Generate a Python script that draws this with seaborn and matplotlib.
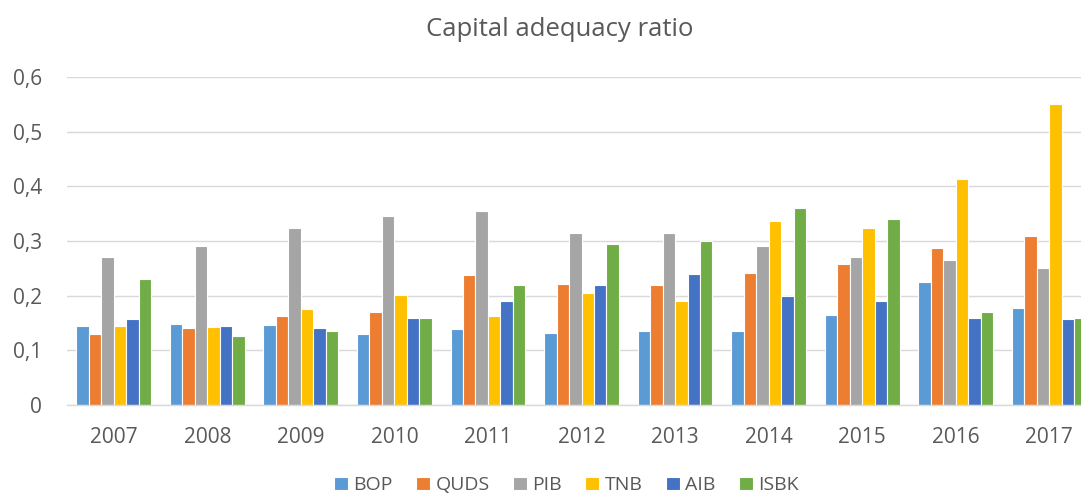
import matplotlib
matplotlib.use('Agg')
import matplotlib.pyplot as plt
import seaborn as sns
import pandas as pd
from matplotlib.ticker import FuncFormatter

years = ['2007', '2008', '2009', '2010', '2011', '2012', '2013', '2014', '2015', '2016', '2017']
banks = ['BOP', 'QUDS', 'PIB', 'TNB', 'AIB', 'ISBK']
bop = [0.145, 0.148, 0.146, 0.130, 0.139, 0.132, 0.136, 0.136, 0.165, 0.225, 0.178]
quds = [0.130, 0.140, 0.163, 0.170, 0.237, 0.222, 0.220, 0.242, 0.258, 0.287, 0.310]
pib = [0.270, 0.290, 0.323, 0.345, 0.355, 0.315, 0.315, 0.290, 0.270, 0.265, 0.250]
tnb = [0.145, 0.143, 0.175, 0.202, 0.163, 0.205, 0.190, 0.336, 0.323, 0.414, 0.550]
aib = [0.158, 0.145, 0.140, 0.160, 0.190, 0.220, 0.240, 0.200, 0.190, 0.160, 0.158]
isbk = [0.230, 0.126, 0.135, 0.160, 0.220, 0.295, 0.300, 0.360, 0.340, 0.170, 0.160]
colors = ['#5B9BD5', '#ED7D31', '#A5A5A5', '#FFC000', '#4472C4', '#70AD47']

series = dict(zip(banks, [bop, quds, pib, tnb, aib, isbk]))
df = pd.DataFrame([
    {'Year': y, 'Bank': b, 'Ratio': v}
    for b in banks for y, v in zip(years, series[b])
])

sns.set_theme(style='white')
plt.rcParams['font.family'] = ['Open Sans', 'DejaVu Sans']
text_color = '#595959'

fig = plt.figure(figsize=(10.81, 4.98), dpi=100)
ax = fig.add_axes([67 / 1081, 93 / 498, 1029 / 1081, 328 / 498])

sns.barplot(data=df, x='Year', y='Ratio', hue='Bank', order=years, hue_order=banks,
            palette=colors, width=0.8, edgecolor='white', linewidth=0.8,
            saturation=1, errorbar=None, ax=ax)

ax.set_xlim(-0.5, len(years) - 0.5)
ax.set_ylim(0, 0.6)
ax.set_yticks([0, 0.1, 0.2, 0.3, 0.4, 0.5, 0.6])
ax.yaxis.set_major_formatter(FuncFormatter(lambda v, _: '0' if v == 0 else f'{v:.1f}'.replace('.', ',')))
ax.grid(axis='y', color='#D9D9D9', linewidth=1)
ax.set_axisbelow(True)
for side in ['top', 'right', 'left']:
    ax.spines[side].set_visible(False)
ax.spines['bottom'].set_color('#D9D9D9')
ax.spines['bottom'].set_linewidth(1)
ax.tick_params(axis='both', length=0, labelsize=15, colors=text_color)
ax.tick_params(axis='x', pad=16)
ax.tick_params(axis='y', pad=18)
ax.set_xlabel('')
ax.set_ylabel('')

fig.text(560 / 1081, 1 - 30 / 498, 'Capital adequacy ratio', ha='center', va='center',
         fontsize=18.5, color=text_color)

handles, labels = ax.get_legend_handles_labels()
ax.legend(handles, labels, loc='center', bbox_to_anchor=(0.5 - 15 / 1029, -0.245),
          bbox_transform=ax.transAxes, ncol=6, frameon=False, fontsize=14,
          handlelength=0.7, handleheight=0.7, handletextpad=0.3, columnspacing=1.2,
          borderpad=0.2, labelcolor=text_color)

fig.savefig('out.png', dpi=100)
